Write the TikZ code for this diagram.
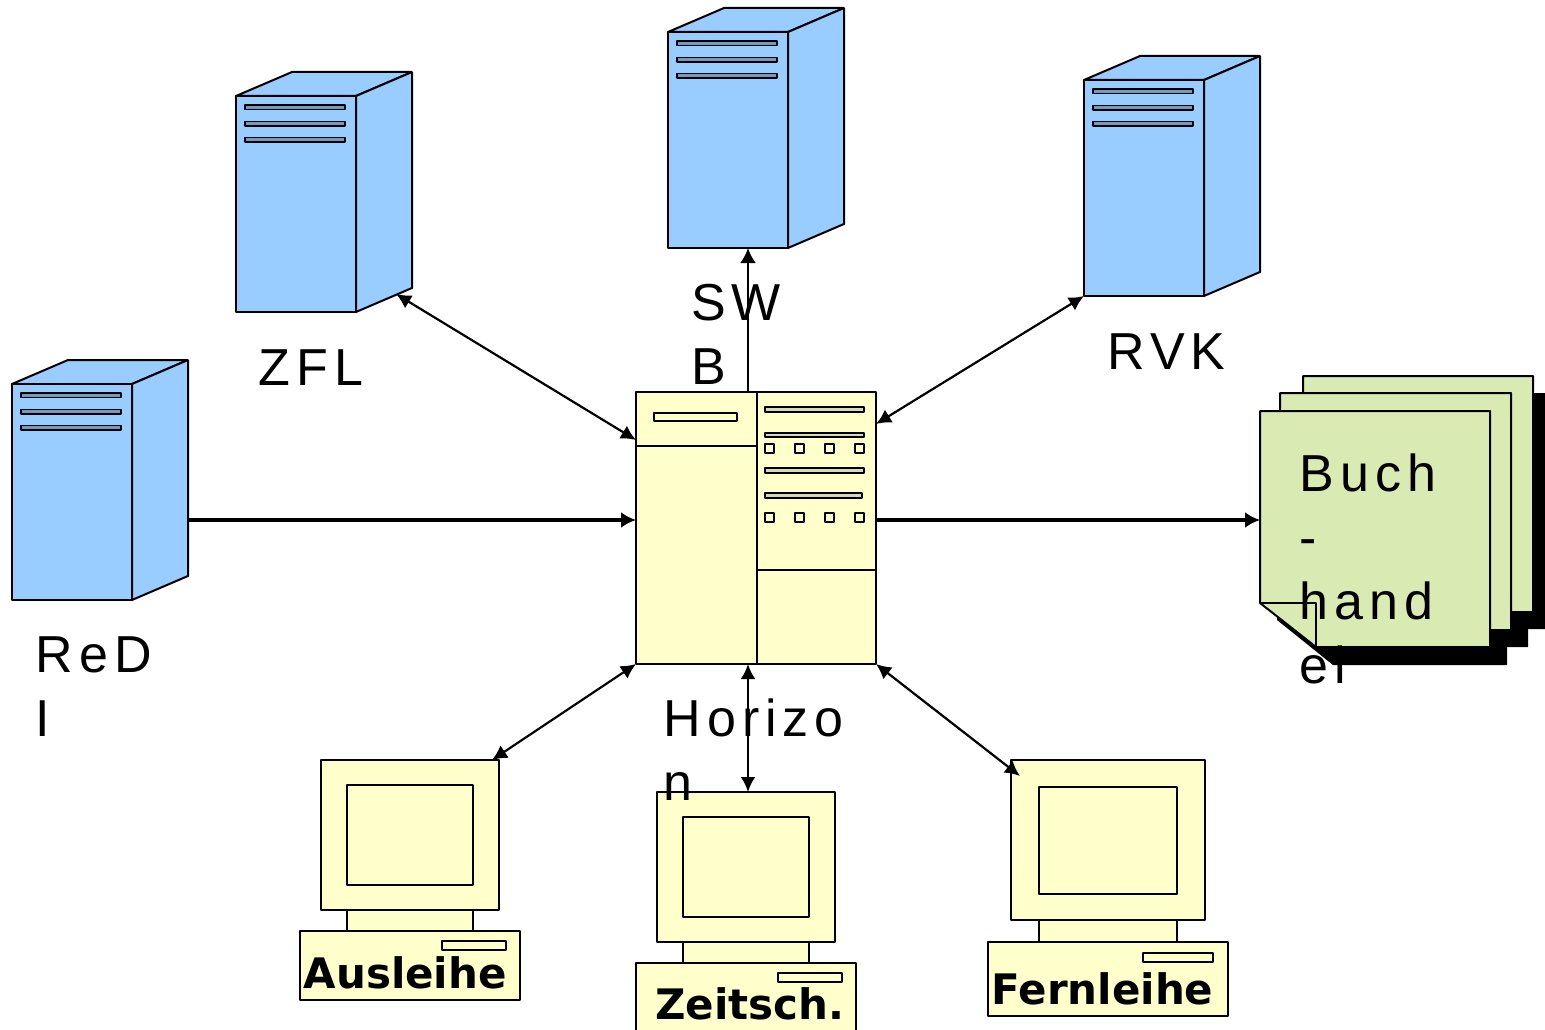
\documentclass[tikz,border=0pt]{standalone}
\usepackage{fontspec}
\usetikzlibrary{arrows.meta}
\newfontfamily\lab[LetterSpace=11.5]{Liberation Sans}
\newfontfamily\blab{DejaVu Sans Bold}
\definecolor{srv}{HTML}{99CCFF}
\definecolor{wk}{HTML}{FFFFCC}
\definecolor{docg}{HTML}{D9EBB3}
\tikzset{
  x=1pt,y=-1pt,
  ln/.style={draw=black,line width=2pt,line join=bevel},
  fr/.style={ln,inner sep=0pt,outer sep=0pt,anchor=north west},
  slit/.style={ln,line width=1.9pt},
  biarrow/.style={line width=2.2pt,{Latex[length=15pt,width=15pt]}-{Latex[length=15pt,width=15pt]}},
  uni/.style={line width=3.4pt,-{Latex[length=15pt,width=16pt]}},
  bigtext/.style={font=\lab\fontsize{52}{64}\selectfont,inner sep=0pt,anchor=base west,align=left},
  boldtext/.style={font=\blab\fontsize{42}{50}\selectfont,inner sep=0pt,anchor=base west},
}
% name, fill, x1, y1, x2, y2
\newcommand\pxbox[6]{\node[fr,fill=#2,minimum width={(#5-#3)*1pt},minimum height={(#6-#4)*1pt}] (#1) at (#3,#4) {};}
% name, x0, y0 (top back edge)
\newcommand\serverpic[3]{%
  \begin{scope}[shift={(#2,#3)}]
    \path[ln,fill=srv] (0,24) -- (56,0) -- (176,0) -- (120,24) -- cycle;
    \path[ln,fill=srv] (120,24) -- (176,0) -- (176,216) -- (120,240) -- cycle;
  \end{scope}
  \pxbox{#1}{srv}{#2}{\the\numexpr#3+24\relax}{\the\numexpr#2+120\relax}{\the\numexpr#3+240\relax}
  \begin{scope}[shift={(#2,#3)}]
    \draw[slit,fill=srv!75!black] (9,33) rectangle (109,37.5);
    \draw[slit,fill=srv!75!black] (9,49.5) rectangle (109,54);
    \draw[slit,fill=srv!75!black] (9,65.5) rectangle (109,70);
  \end{scope}}
% name, monitor box, screen, neck, base, slit
\newcommand\pcbody[6]{%
  \draw[ln,fill=wk] #4;
  \pxbox{#1}{wk}#2%
  \draw[ln] #3;
  \draw[ln,fill=wk] #5;
  \draw[slit,fill=wk] #6;}
\begin{document}
\begin{tikzpicture}
\useasboundingbox (0,0) rectangle (1545,1030);
\clip (0,0) rectangle (1545,1030);
\fill[white] (0,0) rectangle (1545,1030);

% servers
\serverpic{zfl}{236}{72}
\serverpic{swb}{668}{8}
\serverpic{rvk}{1084}{56}
\serverpic{redi}{12}{360}

% hub
\pxbox{hub}{wk}{636}{392}{876}{664}
\draw[ln] (hub.north west) ++(121,0) -- ++(0,272);
\draw[ln,line width=1.5pt] (636,446) -- (757,446);
\draw[ln,line width=1.5pt] (757,570) -- (876,570);
\draw[slit,fill=wk] (654,413) rectangle (737,421);
\foreach \a/\b/\c in {407/412/864,433/437/864,468/473/864,493/498/862}
  \draw[slit,fill=wk!70!gray] (765,\a) rectangle (\c,\b);
\foreach \yy in {444,513}
  \foreach \xx in {765,795,825,855}
    \draw[slit,fill=wk] (\xx,\yy) rectangle ++(9,9);

% documents
\fill[black] (1320,393) -- (1550,393) -- (1550,629) -- (1376,629) -- (1320,585) -- cycle;
\fill[black] (1297,410) -- (1528,410) -- (1528,647) -- (1353,647) -- (1297,602) -- cycle;
\fill[black] (1277,428) -- (1507,428) -- (1507,665) -- (1333,665) -- (1277,620) -- cycle;
\path[ln,fill=docg] (1303,376) -- (1533,376) -- (1533,612) -- (1359,612) -- (1303,568) -- cycle;
\path[ln,fill=docg] (1280,393) -- (1511,393) -- (1511,630) -- (1336,630) -- (1280,585) -- cycle;
\path[ln,fill=docg] (1260,411) -- (1490,411) -- (1490,647) -- (1316,647) -- (1260,603) -- cycle;
\node[inner sep=0pt,outer sep=0pt,anchor=north west,minimum width=230pt,minimum height=236pt] (buch) at (1260,411) {};
\draw[ln] (1260,603) -- (1316,603) -- (1316,647);

% PCs
\pcbody{aus}{{321}{760}{499}{910}}{(347,785) rectangle (473,885)}{(347,905) rectangle (473,931)}{(300,931) rectangle (520,1000)}{(442,941) rectangle (506,950)}
\pcbody{zeit}{{657}{792}{835}{942}}{(683,817) rectangle (809,917)}{(683,937) rectangle (809,963)}{(636,963) rectangle (856,1040)}{(778,973) rectangle (842,982)}
\pcbody{fern}{{1011}{760}{1205}{920}}{(1039,787) rectangle (1177,894)}{(1039,915) rectangle (1177,942)}{(988,942) rectangle (1228,1016)}{(1143,953) rectangle (1213,962)}

% connectors
\draw[biarrow] ([xshift=40pt,yshift=18pt]zfl.south east) -- ([yshift=-48pt]hub.north west);
\draw[uni,line width=2.6pt] ([xshift=-8pt]hub.north) -- ([xshift=20pt]swb.south);
\draw[biarrow] (rvk.south west) -- ([yshift=-32pt]hub.north east);
\draw[uni] ([xshift=56pt,yshift=-28pt]redi.east) -- ([yshift=8pt]hub.west);
\draw[uni] ([yshift=8pt]hub.east) -- ([yshift=9pt]buch.west);
\draw[biarrow] (hub.south west) -- ([xshift=-7pt]aus.north east);
\draw[biarrow,line width=2.6pt] ([xshift=-8pt]hub.south) -- ([xshift=2pt]zeit.north);
\draw[biarrow] (hub.south east) -- ([xshift=9pt,yshift=-16pt]fern.north west);

% labels
\node[bigtext] (lzfl) at (258.5,385) {ZFL};
\node[bigtext] (lswb) at (691,384.5) {SW\\B};
\node[bigtext] (lrvk) at (1107.5,369) {RVK};
\node[bigtext] (lredi) at (35.5,736.5) {ReD\\I};
\node[bigtext] (lhor) at (663.5,800.5) {Horizo\\n};
\node[bigtext] (lbuch) at (1299.5,683) {Buch\\-\\hand\\el};
\node[boldtext] (laus) at (303.5,988) {Ausleihe};
\node[boldtext] (lzeit) at (655,1019.5) {Zeitsch.};
\node[boldtext] (lfern) at (991.5,1004.5) {Fernleihe};
\end{tikzpicture}
\end{document}
